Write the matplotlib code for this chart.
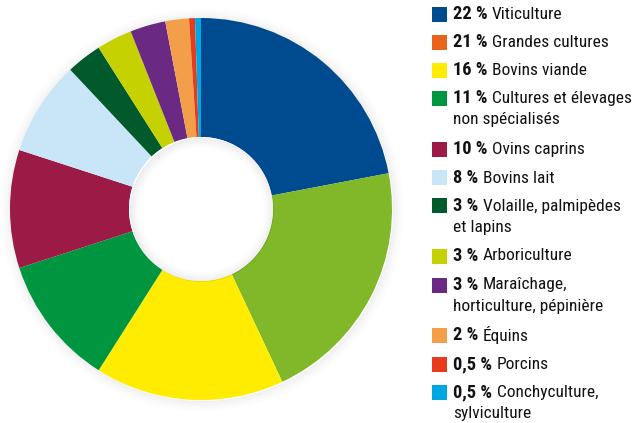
import matplotlib
matplotlib.use("Agg")
import matplotlib.pyplot as plt
from matplotlib.patches import Wedge, Rectangle
import numpy as np

labels = ["Viticulture", "Grandes cultures", "Bovins viande",
          "Cultures et élevages\nnon spécialisés", "Ovins caprins", "Bovins lait",
          "Volaille, palmipèdes\net lapins", "Arboriculture",
          "Maraîchage,\nhorticulture, pépinière", "Équins", "Porcins",
          "Conchyculture,\nsylviculture"]
pct_text = ["22 %", "21 %", "16 %", "11 %", "10 %", "8 %", "3 %", "3 %", "3 %",
            "2 %", "0,5 %", "0,5 %"]
values = [22, 21, 16, 11, 10, 8, 3, 3, 3, 2, 0.5, 0.5]
pie_colors = ["#004a8f", "#80b82a", "#ffec00", "#009640", "#9b1b46", "#c9e5f8",
              "#005a2b", "#c5d100", "#6a2983", "#f39f4a", "#e63b1d", "#00a8e2"]
legend_colors = ["#004a8f", "#e8641b", "#ffec00", "#009640", "#9b1b46", "#c9e5f8",
                 "#005a2b", "#c5d100", "#6a2983", "#f39f4a", "#e63b1d", "#00a8e2"]
legend_rows_y = [14, 42, 70, 98, 149, 178, 206, 256, 285, 335, 364, 392]

W, H = 633, 423
fig = plt.figure(figsize=(W / 100, H / 100), dpi=100)
ax = fig.add_axes([0, 0, 1, 1])

cx, cy = 201, H - 209
R, r = 191, 72

# outer soft shadow
for i in range(12):
    a = 0.06 * (1 - i / 12) ** 1.5
    ax.add_patch(Wedge((cx + 1, cy - 1), R + i + 1, 0, 360, width=1.0,
                       facecolor="#000000", alpha=a, edgecolor="none", zorder=1))

ax.pie(values, colors=pie_colors, startangle=90, counterclock=False,
       center=(cx, cy), radius=R, frame=True,
       wedgeprops=dict(width=R - r, edgecolor="none", zorder=2))
ax.set_xlim(0, W)
ax.set_ylim(0, H)
ax.set_aspect("equal")
ax.axis("off")

# inner shadow in the hole
ax.add_patch(Wedge((cx, cy), r, 0, 360, facecolor="white", edgecolor="none", zorder=3))
for i in range(12):
    a = 0.07 * (1 - i / 12) ** 1.5
    ax.add_patch(Wedge((cx + 1, cy - 1), r - i, 0, 360, width=1.0,
                       facecolor="#000000", alpha=a, edgecolor="none", zorder=4))

fam = ["Roboto Condensed", "PT Sans Narrow", "DejaVu Sans"]
fs = 12.5
fig.canvas.draw()
renderer = fig.canvas.get_renderer()
sq = 15
x_sq = 432
x_txt = 453
for lab, pt, col, yp in zip(labels, pct_text, legend_colors, legend_rows_y):
    ax.add_patch(Rectangle((x_sq, H - yp - sq / 2), sq, sq, facecolor=col,
                           edgecolor="none", zorder=5))
    t = ax.text(x_txt, H - yp, pt, fontsize=13.2, fontweight="bold", family=fam,
                color="#111111", va="center", ha="left", zorder=6)
    bb = t.get_window_extent(renderer=renderer)
    lines = lab.split("\n")
    ax.text(bb.x1 + 4.5, H - yp, lines[0], fontsize=fs, family=fam,
            color="#111111", va="center", ha="left", zorder=6)
    for k, ln in enumerate(lines[1:], 1):
        ax.text(x_txt, H - yp - 21 * k, ln, fontsize=fs, family=fam,
                color="#111111", va="center", ha="left", zorder=6)

fig.savefig("out.png", dpi=100)
